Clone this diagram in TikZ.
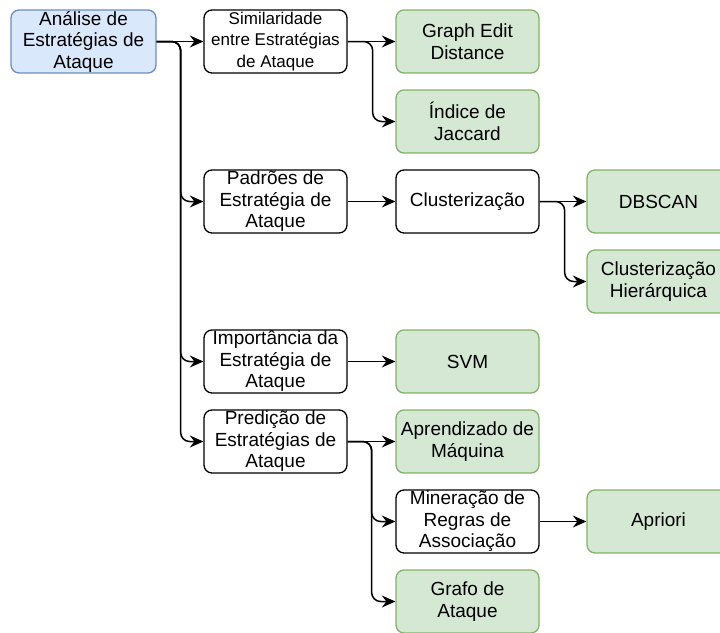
\documentclass[tikz,border=0pt]{standalone}
\usepackage{fontspec}
\setmainfont{Liberation Sans}
\usetikzlibrary{arrows.meta}
\definecolor{bluefill}{HTML}{DAE8FC}
\definecolor{bluedraw}{HTML}{6C8EBF}
\definecolor{greenfill}{HTML}{D5E8D4}
\definecolor{greendraw}{HTML}{82B366}
\begin{document}
\begin{tikzpicture}[x=1pt,y=-1pt,
  box/.style={draw, line width=1.3pt, rounded corners=8pt, minimum width=143pt,
    minimum height=63pt, inner sep=0pt, align=center,
    font=\fontsize{19}{21.5}\selectfont},
  plainbox/.style={box, draw=black, fill=white},
  leafbox/.style={box, draw=greendraw, fill=greenfill},
  rootbox/.style={box, draw=bluedraw, fill=bluefill, minimum width=145pt},
  edge/.style={line width=1.5pt, rounded corners=9pt,
    -{Stealth[length=13.5pt,width=12pt,inset=4.5pt]}}]
\useasboundingbox (0,0) rectangle (720,632);

% column 1
\node[rootbox] (root) at (83.5,41.5) {Análise de\\Estratégias de\\Ataque};

% column 2
\node[plainbox, font=\fontsize{17}{21.5}\selectfont] (sim) at (275.5,41.5) {Similaridade\\entre Estratégias\\de Ataque};
\node[plainbox] (pad)  at (275.5,201.5) {Padrões de\\Estratégia de\\Ataque};
\node[plainbox] (imp)  at (275.5,361.5) {Importância da\\Estratégia de\\Ataque};
\node[plainbox] (pred) at (275.5,441.5) {Predição de\\Estratégias de\\Ataque};

% column 3
\node[leafbox]  (ged)  at (467.5,41.5)  {Graph Edit\\Distance};
\node[leafbox]  (jac)  at (467.5,121.5) {Índice de\\Jaccard};
\node[plainbox] (clu)  at (467.5,201.5) {Clusterização};
\node[leafbox]  (svm)  at (467.5,361.5) {SVM};
\node[leafbox]  (apr)  at (467.5,441.5) {Aprendizado de\\Máquina};
\node[plainbox] (mine) at (467.5,521.5) {Mineração de\\Regras de\\Associação};
\node[leafbox]  (graf) at (467.5,601.5) {Grafo de\\Ataque};

% column 4
\node[leafbox] (dbs)  at (658.5,201.5) {DBSCAN};
\node[leafbox] (hier) at (658.5,281.5) {Clusterização\\Hierárquica};
\node[leafbox] (apri) at (658.5,521.5) {Apriori};

% connectors
\draw[edge] (root.east) -- (sim.west);
\draw[edge] (root.east) -- ++(24,0) |- (pad.west);
\draw[edge] (root.east) -- ++(24,0) |- (imp.west);
\draw[edge] (root.east) -- ++(24,0) |- (pred.west);

\draw[edge] (sim.east) -- (ged.west);
\draw[edge] (sim.east) -- ++(25,0) |- (jac.west);

\draw[edge] (pad.east) -- (clu.west);
\draw[edge] (clu.east) -- (dbs.west);
\draw[edge] (clu.east) -- ++(25,0) |- (hier.west);

\draw[edge] (imp.east) -- (svm.west);

\draw[edge] (pred.east) -- (apr.west);
\draw[edge] (pred.east) -- ++(24,0) |- (mine.west);
\draw[edge] (pred.east) -- ++(24,0) |- (graf.west);

\draw[edge] (mine.east) -- (apri.west);
\end{tikzpicture}
\end{document}
